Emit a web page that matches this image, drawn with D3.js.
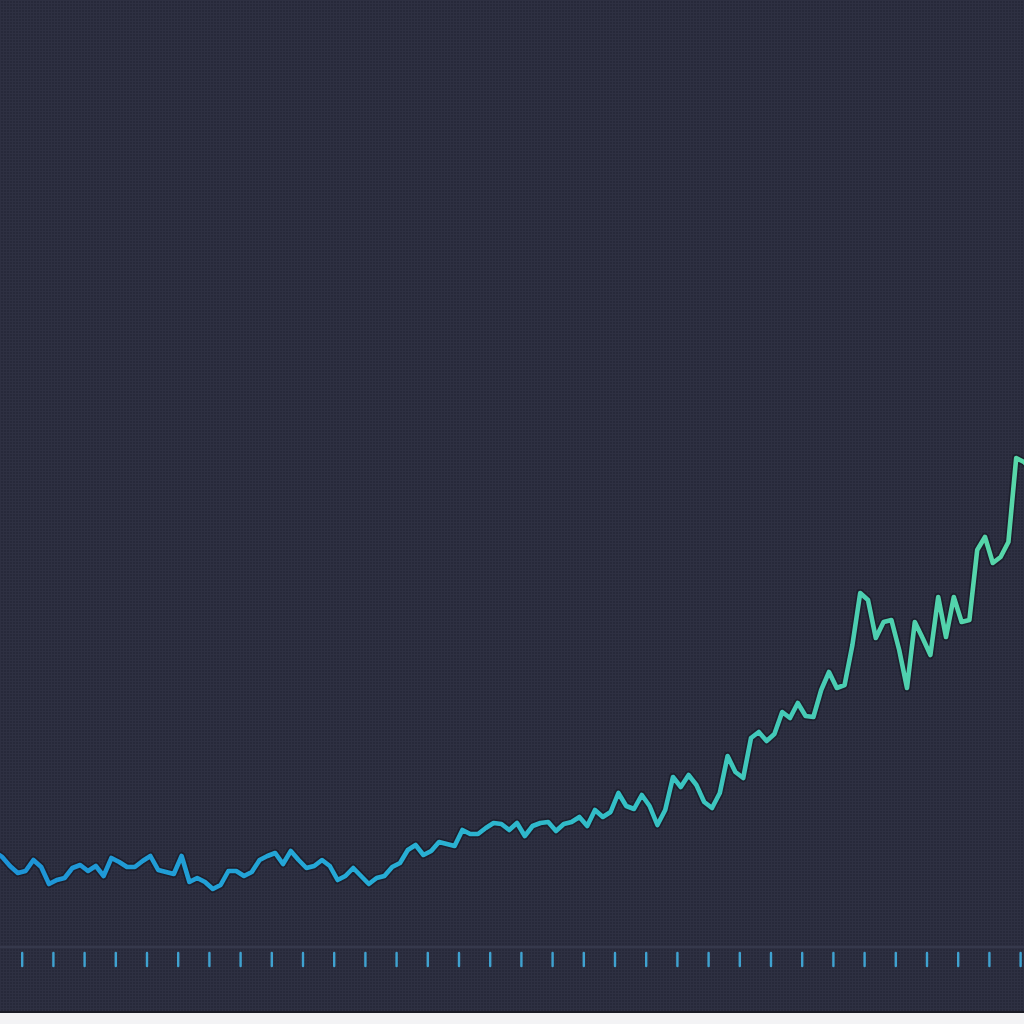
<!DOCTYPE html>
<html>
<head>
<meta charset="utf-8">
<script src="https://cdn.jsdelivr.net/npm/d3@7"></script>
<style>
html,body{margin:0;padding:0;background:#f3f3f5;}
svg{display:block;}
</style>
</head>
<body>
<svg id="chart" width="1024" height="1024"></svg>
<script>
// Quarterly series, first point at 1989.125 (mid-quarter), step 0.25 year
const startYear = 1989.125;
const step = 0.25;
const values = [
 19.0,18.0,16.2,14.8,15.2,17.4,16.0,12.6,13.4,13.8,
 15.8,16.4,15.2,16.2,14.2,17.8,17.0,16.0,16.0,17.2,
 18.2,15.4,15.0,14.6,18.2,13.0,13.8,13.0,11.6,12.4,
 15.2,15.2,14.2,15.0,17.4,18.2,18.8,16.6,19.2,17.4,
 15.8,16.2,17.4,16.2,13.4,14.2,15.8,14.2,12.6,13.8,
 14.2,16.0,16.8,19.4,20.4,18.4,19.2,21.0,20.6,20.2,
 23.4,22.6,22.6,23.8,24.8,24.6,23.4,24.8,22.2,24.2,
 24.8,25.0,23.2,24.6,25.0,26.0,24.2,27.4,26.0,27.0,
 30.8,28.2,27.6,30.4,28.2,24.4,27.4,34.0,32.0,34.4,
 32.4,29.0,27.8,30.8,38.2,35.0,33.8,41.8,43.0,41.2,
 42.6,47.0,45.8,48.8,46.2,46.0,51.4,55.0,51.8,52.4,
 60.4,70.8,69.4,61.8,65.0,65.4,59.4,51.8,65.0,61.8,
 58.4,70.0,62.0,70.0,65.0,65.4,79.4,82.0,76.8,78.0,
 81.0,97.8,97.0,95.4
];
const tickYears = d3.range(1990, 2023);

const svg = d3.select("#chart");
const W = 1024;

// scales: 1990 -> 21.7px, 31.2px per year
const x = d3.scaleLinear().domain([1990, 2022]).range([21.7, 1020.1]);
const y = d3.scaleLinear().domain([0, 100]).range([947, 447]);

const data = values.map((v, i) => ({t: startYear + i * step, v}));

const defs = svg.append("defs");
const grad = defs.append("linearGradient")
  .attr("id", "lineGrad").attr("gradientUnits", "userSpaceOnUse")
  .attr("x1", 0).attr("y1", 0).attr("x2", W).attr("y2", 0);
[[0, "#1d93d6"], [0.35, "#25aad6"], [0.6, "#33bfc6"], [0.85, "#4dcfb0"], [1, "#58d7a8"]]
  .forEach(([o, c]) => grad.append("stop").attr("offset", o).attr("stop-color", c));

const tgrad = defs.append("linearGradient")
  .attr("id", "tickGrad").attr("gradientUnits", "userSpaceOnUse")
  .attr("x1", 0).attr("y1", 0).attr("x2", W).attr("y2", 0);
[[0, "#3fa2d0"], [0.5, "#52bcc8"], [1, "#78d8c2"]]
  .forEach(([o, c]) => tgrad.append("stop").attr("offset", o).attr("stop-color", c));

// subtle grid texture
const pat = defs.append("pattern").attr("id", "tex")
  .attr("width", 3).attr("height", 3).attr("patternUnits", "userSpaceOnUse");
pat.append("rect").attr("width", 3).attr("height", 3).attr("fill", "#27293a");
pat.append("rect").attr("width", 3).attr("height", 1).attr("fill", "#2e3042");
pat.append("rect").attr("width", 1).attr("height", 3).attr("fill", "#2e3042");

svg.append("rect").attr("x", 0).attr("y", 0).attr("width", W).attr("height", 1013)
  .attr("fill", "url(#tex)");
svg.append("rect").attr("x", 0).attr("y", 1011).attr("width", W).attr("height", 2)
  .attr("fill", "#1b1c26");

// baseline
svg.append("line")
  .attr("x1", 0).attr("x2", W)
  .attr("y1", y(0)).attr("y2", y(0))
  .attr("stroke", "#3b3e52").attr("stroke-width", 1.5);

// ticks
const axis = d3.axisBottom(x).tickValues(tickYears).tickSize(13).tickFormat("");
const ag = svg.append("g").attr("transform", `translate(0,${y(0) + 6})`).call(axis);
ag.select(".domain").remove();
ag.selectAll(".tick line").attr("stroke", "url(#tickGrad)").attr("stroke-width", 2.4)
  .attr("stroke-linecap", "round");

const line = d3.line().x(d => x(d.t)).y(d => y(d.v));

svg.append("path").datum(data)
  .attr("d", line)
  .attr("fill", "none")
  .attr("stroke", "#141520").attr("stroke-opacity", 0.55)
  .attr("stroke-width", 8).attr("stroke-linejoin", "round");

svg.append("path").datum(data)
  .attr("d", line)
  .attr("fill", "none")
  .attr("stroke", "url(#lineGrad)")
  .attr("stroke-width", 4.6).attr("stroke-linejoin", "round").attr("stroke-linecap", "round");
</script>
</body>
</html>
